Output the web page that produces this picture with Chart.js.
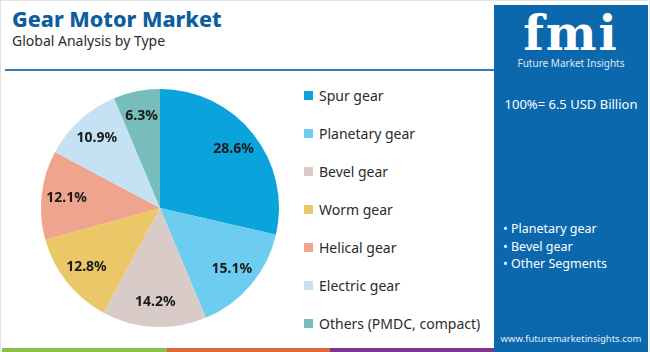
<!DOCTYPE html>
<html>
<head>
<meta charset="utf-8">
<script src="https://cdn.jsdelivr.net/npm/chart.js@4"></script>
<style>
  html, body { margin: 0; padding: 0; }
  body { width: 650px; height: 352px; position: relative; overflow: hidden; background: #fff; font-family: 'Noto Sans', 'Open Sans', sans-serif; }
  .frame { position: absolute; left: 0; top: 0; width: 648px; height: 350px; border: 1px solid #e3e3e3; }
  .title { position: absolute; left: 12px; top: 4px; font-size: 21.5px; font-weight: 800; color: #0d5e9e; }
  .subtitle { position: absolute; left: 12px; top: 31px; font-size: 14px; color: #2b2b2b; }
  .rule { position: absolute; left: 5px; top: 69px; width: 490px; height: 2px; background: #3a79ac; }
  .panel { position: absolute; left: 494px; top: 5px; width: 154px; height: 347px; background: #0b68ad; color: #fff; }
  .logo { position: absolute; left: 0; width: 154px; top: 4px; text-align: center; font-family: 'DejaVu Serif', serif; font-weight: bold; font-size: 48px; line-height: 48px; color: #fff; letter-spacing: 2px; }
  .logo-sub { position: absolute; left: 0; width: 154px; top: 51px; text-align: center; font-size: 10px; color: #dfe9f4; }
  .total { position: absolute; left: 0; width: 154px; top: 90px; text-align: center; font-size: 13px; }
  .bullets { position: absolute; left: 9px; top: 215px; font-size: 12.5px; line-height: 17.5px; }
  .url { position: absolute; left: 0; width: 154px; top: 327px; text-align: center; font-size: 9.5px; color: #e6eef6; }
  .legend { position: absolute; left: 304px; top: 86px; }
  .legend div { height: 38px; font-size: 14px; color: #2b2b2b; display: flex; align-items: flex-start; }
  .legend span.sw { display: inline-block; width: 9px; height: 9px; margin-right: 6px; margin-top: 5px; }
  .chartbox { position: absolute; left: 40px; top: 88px; width: 240px; height: 240px; }
  .strip { position: absolute; top: 348px; height: 4px; }
</style>
</head>
<body>
<div class="frame"></div>
<div class="title">Gear Motor Market</div>
<div class="subtitle">Global Analysis by Type</div>
<div class="rule"></div>
<div class="chartbox"><canvas id="pie"></canvas></div>
<div class="legend" id="legend"></div>
<div class="panel">
  <div class="logo">fmi</div>
  <div class="logo-sub">Future Market Insights</div>
  <div class="total">100%= 6.5 USD Billion</div>
  <div class="bullets">• Planetary gear<br>• Bevel gear<br>• Other Segments</div>
  <div class="url">www.futuremarketinsights.com</div>
</div>
<div class="strip" style="left:2px;width:165px;background:#8dbf4f"></div>
<div class="strip" style="left:167px;width:163px;background:#e0673a"></div>
<div class="strip" style="left:330px;width:164px;background:#7d3590"></div>
<script>
const categories = ['Spur gear', 'Planetary gear', 'Bevel gear', 'Worm gear', 'Helical gear', 'Electric gear', 'Others (PMDC, compact)'];
const shares = [28.6, 15.1, 14.2, 12.8, 12.1, 10.9, 6.3];
const colors = ['#0aa3dc', '#6ccdf1', '#d8cbc8', '#ebc767', '#eea48d', '#c4e2f3', '#76bdbb'];

const legend = document.getElementById('legend');
categories.forEach((c, i) => {
  const row = document.createElement('div');
  row.innerHTML = '<span class="sw" style="background:' + colors[i] + '"></span>' + c;
  legend.appendChild(row);
});

const pieLabels = {
  id: 'pieLabels',
  afterDatasetsDraw(chart) {
    const ctx = chart.ctx;
    const meta = chart.getDatasetMeta(0);
    ctx.save();
    ctx.font = 'bold 14px "Noto Sans", sans-serif';
    ctx.fillStyle = '#1a1a1a';
    ctx.textAlign = 'center';
    ctx.textBaseline = 'middle';
    meta.data.forEach((arc, i) => {
      const mid = (arc.startAngle + arc.endAngle) / 2;
      const r = arc.outerRadius * 0.79;
      ctx.fillText(shares[i].toFixed(1) + '%', arc.x + Math.cos(mid) * r, arc.y + Math.sin(mid) * r);
    });
    ctx.restore();
  }
};

new Chart(document.getElementById('pie'), {
  type: 'pie',
  data: {
    labels: categories,
    datasets: [{ data: shares, backgroundColor: colors, borderWidth: 0 }]
  },
  options: {
    responsive: true,
    maintainAspectRatio: false,
    animation: false,
    layout: { padding: 1 },
    plugins: { legend: { display: false }, tooltip: { enabled: false } }
  },
  plugins: [pieLabels]
});
</script>
</body>
</html>
